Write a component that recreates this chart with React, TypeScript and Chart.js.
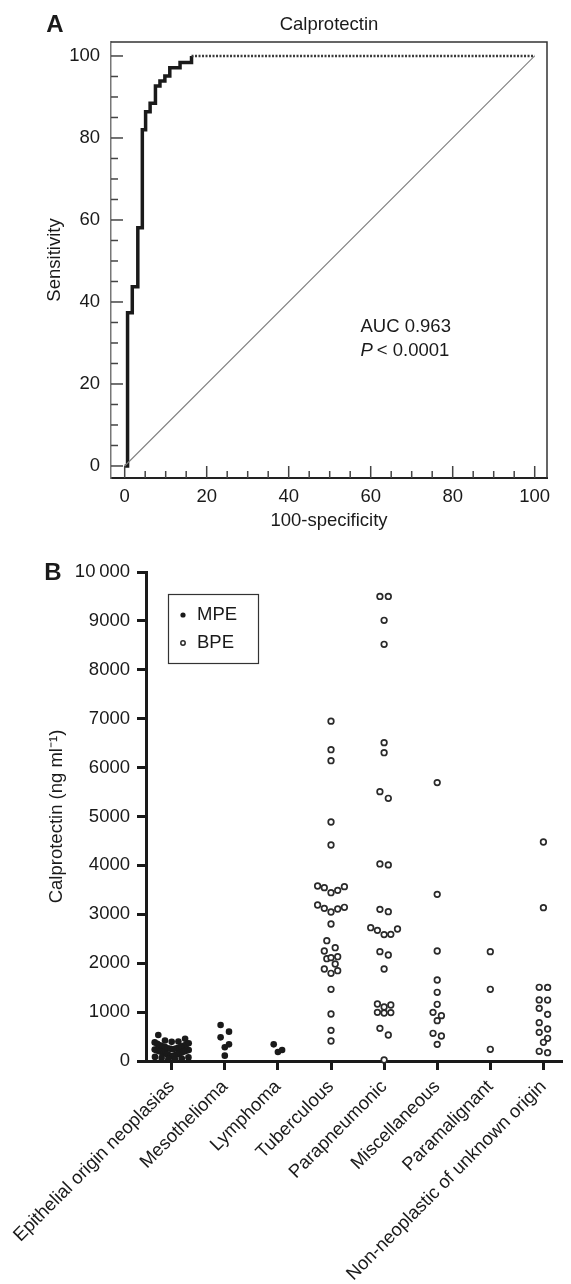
import React, { useEffect, useRef } from "react";
import { Chart, registerables } from "chart.js";

Chart.register(...registerables);

const FONT_FAMILY = "'Liberation Sans', Arial, Helvetica, sans-serif";
const INK = "#1a1a1a";

// ---------------- Panel A (ROC) data ----------------
const rocSpecComplement = [0, 0.7, 1.85, 3.2, 4.3, 5.1, 6.2, 7.5, 8.6, 9.8, 11.0, 13.5, 16.3];
const rocSensitivity = [0, 37.4, 43.7, 58.1, 82.0, 86.4, 88.5, 92.7, 93.9, 95.1, 97.1, 98.4, 100];
const plateauSpecComplement = [16.3, 100];
const plateauSensitivity = [100, 100];
const chanceLineX = [0, 100];
const chanceLineY = [0, 100];
const rocTickValues = [0, 20, 40, 60, 80, 100];
const rocMinorStep = 5;
const panelATitle = "Calprotectin";
const aucLabel = "AUC 0.963";
const pLabel = "< 0.0001";

// ---------------- Panel B (scatter) data ----------------
const categories = [
  "Epithelial origin neoplasias",
  "Mesothelioma",
  "Lymphoma",
  "Tuberculous",
  "Parapneumonic",
  "Miscellaneous",
  "Paramalignant",
  "Non-neoplastic of unknown origin",
];
const epithelialMPE = [
  532, 455, 418, 400, 392, 380, 362, 350, 338, 322, 312, 300, 292, 283, 270, 262, 255, 248,
  240, 233, 226, 221, 214, 209, 203, 196, 190, 184, 176, 170, 161, 152, 143, 136, 127, 118,
  110, 101, 93, 84, 74, 63, 51, 38, 25,
];
const mesotheliomaMPE = [736, 600, 484, 341, 280, 109];
const lymphomaMPE = [341, 184, 225];
const tuberculousBPE = [
  6950, 6366, 6141, 4888, 4417, 3579, 3545, 3442, 3490, 3565, 3143, 3108, 3047, 3122, 3190,
  2802, 2460, 2317, 2249, 2133, 2092, 2113, 1984, 1881, 1793, 1847, 1466, 961, 627, 409,
];
const parapneumonicBPE = [
  9500, 9500, 9012, 8521, 6510, 6305, 5508, 5372, 4030, 4010, 3101, 3053, 2726, 2672, 2590,
  2585, 2699, 2236, 2168, 1881, 1145, 1166, 995, 982, 990, 1104, 668, 532, 20,
];
const miscellaneousBPE = [5693, 3408, 2249, 1656, 1405, 1159, 995, 927, 825, 566, 511, 341];
const paramalignantBPE = [2236, 1466, 239];
const nonNeoplasticBPE = [4479, 3136, 1507, 1505, 1248, 1246, 1077, 954, 784, 654, 586, 464, 382, 170, 198];
const yTickStep = 1000;
const yMax = 10000;
const seriesLabels = ["MPE", "BPE"];
const yAxisTitle = "Calprotectin (ng ml\u207B\u00B9)";

const mpeGroups = [epithelialMPE, mesotheliomaMPE, lymphomaMPE, [], [], [], [], []];
const bpeGroups = [[], [], [], tuberculousBPE, parapneumonicBPE, miscellaneousBPE, paramalignantBPE, nonNeoplasticBPE];

const toXY = (xs: number[], ys: number[]) => xs.map((x, i) => ({ x, y: ys[i] }));

// deterministic row-based beeswarm (GraphPad-like) in pixel space
function beeswarmOffsets(values: number[], toPx: (v: number) => number): number[] {
  const ROW = 7, GAP = 6.7, PAIR_GAP = 8.4, MAX_HALF = 17;
  const order = values.map((_, i) => i).sort((a, b) => values[b] - values[a]);
  const offsets = new Array(values.length).fill(0);
  let row: number[] = [];
  const flush = () => {
    const n = row.length;
    if (!n) return;
    let sp = n === 2 ? PAIR_GAP : GAP;
    if (n > 1) sp = Math.min(sp, (2 * MAX_HALF) / (n - 1));
    const slots = Array.from({ length: n }, (_, k) => (k - (n - 1) / 2) * sp);
    const slotOrder: number[] = [];
    let lo = 0, hi = n - 1;
    while (lo <= hi) {
      slotOrder.push(lo++);
      if (lo <= hi) slotOrder.push(hi--);
    }
    row.forEach((idx, k) => { offsets[idx] = slots[slotOrder[k]]; });
  };
  for (const i of order) {
    if (row.length && toPx(values[i]) - toPx(values[row[0]]) > ROW) {
      flush();
      row = [];
    }
    row.push(i);
  }
  flush();
  return offsets;
}

const font = (size: number, style = "normal", weight = "normal") => ({ family: FONT_FAMILY, size, style, weight } as any);
const FS_A = 18.5;
const FS_B = 18.5;

const panelAPlugin = {
  id: "panelADecor",
  afterDraw(chart: any) {
    const { ctx, chartArea: ca } = chart;
    const x = chart.scales.x, y = chart.scales.y;
    ctx.save();
    ctx.strokeStyle = "#333";
    ctx.lineWidth = 1.5;
    ctx.beginPath();
    ctx.moveTo(ca.left, ca.top);
    ctx.lineTo(ca.right, ca.top);
    ctx.lineTo(ca.right, ca.bottom);
    ctx.stroke();
    ctx.strokeStyle = "#444";
    for (let v = 0; v <= 100; v += rocMinorStep) {
      const len = v % 20 === 0 ? 12 : 7;
      const py = y.getPixelForValue(v);
      ctx.beginPath();
      ctx.moveTo(ca.left, py);
      ctx.lineTo(ca.left + len, py);
      ctx.stroke();
      const px = x.getPixelForValue(v);
      ctx.beginPath();
      ctx.moveTo(px, ca.bottom);
      ctx.lineTo(px, ca.bottom - len);
      ctx.stroke();
    }
    ctx.fillStyle = INK;
    ctx.textBaseline = "middle";
    ctx.textAlign = "center";
    ctx.font = `bold 24px ${FONT_FAMILY}`;
    ctx.fillText("A", 55, 25);
    ctx.font = `${FS_A}px ${FONT_FAMILY}`;
    ctx.fillText(panelATitle, (ca.left + ca.right) / 2, 25);
    ctx.textAlign = "left";
    const tx = x.getPixelForValue(57.5);
    ctx.fillText(aucLabel, tx, y.getPixelForValue(34));
    ctx.font = `italic ${FS_A}px ${FONT_FAMILY}`;
    const py2 = y.getPixelForValue(28);
    ctx.fillText("P", tx, py2);
    const w = ctx.measureText("P").width;
    ctx.font = `${FS_A}px ${FONT_FAMILY}`;
    ctx.fillText(pLabel, tx + w + 4, py2);
    ctx.restore();
  },
};

const panelBPlugin = {
  id: "panelBDecor",
  afterDraw(chart: any) {
    const { ctx, chartArea: ca } = chart;
    ctx.save();
    ctx.fillStyle = INK;
    ctx.textBaseline = "middle";
    ctx.textAlign = "center";
    ctx.font = `bold 24px ${FONT_FAMILY}`;
    ctx.fillText("B", 53, ca.top + 1);
    // legend box
    const bx = ca.left + 22, by = ca.top + 22, bw = 90, bh = 69;
    ctx.strokeStyle = "#333";
    ctx.lineWidth = 1.2;
    ctx.strokeRect(bx + 0.5, by + 0.5, bw, bh);
    ctx.textAlign = "left";
    ctx.font = `${FS_B}px ${FONT_FAMILY}`;
    chart.data.datasets.forEach((ds: any, i: number) => {
      const cy = by + 21 + i * 28;
      const cx = bx + 15;
      ctx.beginPath();
      ctx.arc(cx, cy, i === 0 ? 2.6 : 2.2, 0, Math.PI * 2);
      if (i === 0) {
        ctx.fillStyle = ds.backgroundColor;
        ctx.fill();
      } else {
        ctx.fillStyle = "#fff";
        ctx.fill();
        ctx.lineWidth = 1.5;
        ctx.strokeStyle = ds.borderColor;
        ctx.stroke();
      }
      ctx.fillStyle = INK;
      ctx.fillText(ds.label, bx + 29, cy);
    });
    ctx.restore();
  },
};

export default function App() {
  const refA = useRef<HTMLCanvasElement>(null);
  const refB = useRef<HTMLCanvasElement>(null);

  useEffect(() => {
    const chartA = new Chart(refA.current as HTMLCanvasElement, {
      type: "scatter",
      data: {
        datasets: [
          {
            data: toXY(chanceLineX, chanceLineY),
            showLine: true,
            borderColor: "#808080",
            borderWidth: 1.1,
            pointRadius: 0,
          },
          {
            data: toXY(plateauSpecComplement, plateauSensitivity),
            showLine: true,
            borderColor: "#3a3a3a",
            borderWidth: 2.5,
            borderDash: [2, 1.5],
            pointRadius: 0,
          },
          {
            data: toXY(rocSpecComplement, rocSensitivity),
            showLine: true,
            stepped: "before",
            borderColor: INK,
            borderWidth: 3.5,
            borderJoinStyle: "miter",
            pointRadius: 0,
          },
        ] as any,
      },
      options: {
        animation: false,
        responsive: false,
        devicePixelRatio: 1,
        layout: { padding: { left: 0, right: 24, top: 42, bottom: 0 } },
        plugins: { legend: { display: false }, tooltip: { enabled: false }, title: { display: false } },
        scales: {
          x: {
            type: "linear",
            min: -3.34,
            max: 103.0,
            afterBuildTicks: (s: any) => { s.ticks = rocTickValues.map((v) => ({ value: v })); },
            afterFit: (s: any) => { s.height = 62; },
            grid: { display: true, drawOnChartArea: false, drawTicks: false },
            border: { display: true, color: "#222", width: 2 },
            ticks: { padding: 8, color: INK, font: font(FS_A), maxRotation: 0, autoSkip: false },
            title: { display: true, text: "100-specificity", color: INK, font: font(FS_A), padding: { top: 0, bottom: 8 } },
          },
          y: {
            type: "linear",
            min: -2.93,
            max: 103.41,
            afterBuildTicks: (s: any) => { s.ticks = rocTickValues.map((v) => ({ value: v })); },
            afterFit: (s: any) => { s.width = 111; },
            grid: { display: true, drawOnChartArea: false, drawTicks: false },
            border: { display: true, color: "#777", width: 1.5 },
            ticks: { padding: 11, color: INK, font: font(FS_A), autoSkip: false },
            title: { display: true, text: "Sensitivity", color: INK, font: font(FS_A), padding: { top: 44, bottom: 0 } },
          },
        },
      } as any,
      plugins: [panelAPlugin],
    });

    const chartB = new Chart(refB.current as HTMLCanvasElement, {
      type: "scatter",
      data: {
        datasets: [
          {
            label: seriesLabels[0],
            data: mpeGroups.flatMap((g, ci) => g.map((v) => ({ x: ci, y: v }))),
            pointRadius: 3.3,
            pointStyle: "circle",
            backgroundColor: INK,
            borderColor: INK,
            borderWidth: 0,
            clip: false,
          },
          {
            label: seriesLabels[1],
            data: bpeGroups.flatMap((g, ci) => g.map((v) => ({ x: ci, y: v }))),
            pointRadius: 2.8,
            pointStyle: "circle",
            backgroundColor: "#ffffff",
            borderColor: "#2a2a2a",
            borderWidth: 1.7,
            clip: false,
          },
        ] as any,
      },
      options: {
        animation: false,
        responsive: false,
        devicePixelRatio: 1,
        layout: { padding: { left: 0, right: 9, top: 32, bottom: 0 } },
        plugins: { legend: { display: false }, tooltip: { enabled: false }, title: { display: false } },
        scales: {
          x: {
            type: "linear",
            min: -0.484,
            max: 7.35,
            afterBuildTicks: (s: any) => { s.ticks = categories.map((_, i) => ({ value: i })); },
            afterFit: (s: any) => { s.height = 223; },
            grid: { display: true, drawOnChartArea: false, drawTicks: true, tickLength: 9, tickWidth: 3, tickColor: INK },
            border: { display: true, color: INK, width: 3 },
            ticks: {
              autoSkip: false,
              minRotation: 45,
              maxRotation: 45,
              padding: 6,
              color: INK,
              font: font(FS_B),
              callback: (v: any) => categories[v] ?? "",
            },
          },
          y: {
            type: "linear",
            min: 0,
            max: yMax,
            afterFit: (s: any) => { s.width = 146; },
            grid: { display: true, drawOnChartArea: false, drawTicks: true, tickLength: 9, tickWidth: 3, tickColor: INK },
            border: { display: true, color: INK, width: 3 },
            ticks: {
              stepSize: yTickStep,
              padding: 7,
              color: INK,
              font: font(FS_B),
              callback: (v: any) => (v >= 10000 ? "10\u2009000" : String(v)),
            },
            title: { display: true, text: yAxisTitle, color: INK, font: font(FS_B), padding: { top: 46, bottom: 0 } },
          },
        },
      } as any,
      plugins: [panelBPlugin],
    });

    // lay out the dot columns with a deterministic beeswarm based on the chart's own scales
    const xs: any = chartB.scales.x;
    const ys: any = chartB.scales.y;
    const pxPerCat = xs.getPixelForValue(1) - xs.getPixelForValue(0);
    [mpeGroups, bpeGroups].forEach((groups, di) => {
      const pts: { x: number; y: number }[] = [];
      groups.forEach((vals, ci) => {
        const offs = beeswarmOffsets(vals, (v) => ys.getPixelForValue(v));
        vals.forEach((v, k) => pts.push({ x: ci + offs[k] / pxPerCat, y: v }));
      });
      (chartB.data.datasets[di] as any).data = pts;
    });
    chartB.update("none");

    return () => {
      chartA.destroy();
      chartB.destroy();
    };
  }, []);

  return (
    <div style={{ position: "absolute", left: 0, top: 0, width: 571, height: 1284, background: "#fff" }}>
      <canvas ref={refA} width={571} height={540} style={{ position: "absolute", left: 0, top: 0, width: 571, height: 540 }} />
      <canvas ref={refB} width={571} height={744} style={{ position: "absolute", left: 0, top: 540, width: 571, height: 744 }} />
    </div>
  );
}
